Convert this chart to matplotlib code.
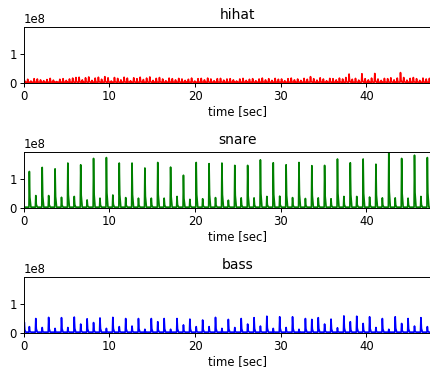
import numpy as np
import matplotlib
matplotlib.use("Agg")
import matplotlib.pyplot as plt
from typing import List, Tuple

SCALE = 1e8

# snare: loud hits and the quieter hits in between (values in 1e8)
snare_big_t = [0.67, 2.17, 3.67, 5.16, 6.66, 8.16, 9.66, 11.16, 12.65, 14.15, 15.65,
               17.15, 18.65, 20.14, 21.64, 23.14, 24.64, 26.14, 27.63, 29.13, 30.63,
               32.13, 33.63, 35.12, 36.62, 38.12, 39.62, 41.11, 42.61, 44.11, 45.61, 47.11]
snare_big_v = [1.27, 1.41, 1.36, 1.56, 1.50, 1.72, 1.75, 1.56, 1.56, 1.39, 1.58,
               1.42, 1.14, 1.58, 1.54, 1.56, 1.48, 1.48, 1.67, 1.57, 1.50,
               1.58, 1.47, 1.48, 1.70, 1.57, 1.70, 1.52, 1.93, 1.72, 1.83, 1.75]
snare_small_t = [1.42, 2.92, 4.42, 5.91, 7.41, 8.91, 10.41, 11.91, 13.40, 14.90, 16.40,
                 17.90, 19.40, 20.89, 22.39, 23.89, 25.39, 26.89, 28.38, 29.88, 31.38,
                 32.88, 34.38, 35.87, 37.37, 38.87, 40.37, 41.86, 43.36, 44.86, 46.36]
snare_small_v = [0.44, 0.44, 0.38, 0.41, 0.29, 0.35, 0.46, 0.37, 0.35, 0.35, 0.35,
                 0.41, 0.31, 0.33, 0.37, 0.28, 0.36, 0.36, 0.41, 0.42, 0.37,
                 0.34, 0.36, 0.33, 0.41, 0.41, 0.39, 0.36, 0.36, 0.35, 0.41]

# bass: big hits line up with the quiet snare hits, small ones with the loud snare hits
bass_big_t = snare_small_t
bass_big_v = [0.51, 0.55, 0.54, 0.56, 0.50, 0.53, 0.55, 0.51, 0.51, 0.51, 0.51,
              0.51, 0.49, 0.46, 0.55, 0.48, 0.51, 0.54, 0.59, 0.57, 0.57,
              0.51, 0.54, 0.49, 0.60, 0.59, 0.57, 0.51, 0.57, 0.51, 0.54]
bass_small_t = [0.08] + snare_big_t
bass_small_v = [0.38, 0.23, 0.20, 0.17, 0.20, 0.32, 0.37, 0.17, 0.23, 0.25, 0.14, 0.40,
                0.14, 0.29, 0.23, 0.23, 0.17, 0.20, 0.32, 0.25, 0.17, 0.20, 0.14,
                0.48, 0.32, 0.19, 0.40, 0.34, 0.20, 0.14, 0.34, 0.25, 0.23]

# hihat: one hit every 0.375 s starting at 0.1 s
hihat_start = 0.1
hihat_step = 0.375
hihat_v = [0.10, 0.14, 0.08, 0.16, 0.15, 0.12, 0.09, 0.13, 0.17, 0.11, 0.06, 0.14, 0.16, 0.10, 0.15, 0.18,
           0.20, 0.21, 0.12, 0.19, 0.22, 0.10, 0.18, 0.21, 0.14, 0.23, 0.19, 0.08, 0.20, 0.17, 0.12, 0.21,
           0.18, 0.09, 0.19, 0.16, 0.21, 0.13, 0.18, 0.22, 0.10, 0.17, 0.20, 0.15, 0.09, 0.18, 0.16, 0.12,
           0.17, 0.15, 0.10, 0.14, 0.18, 0.08, 0.16, 0.17, 0.12, 0.18, 0.15, 0.09, 0.16, 0.17, 0.11, 0.15,
           0.16, 0.12, 0.08, 0.15, 0.17, 0.10, 0.14, 0.16, 0.09, 0.15, 0.18, 0.12, 0.16, 0.10, 0.17, 0.14,
           0.15, 0.09, 0.16, 0.18, 0.12, 0.15, 0.10, 0.17, 0.14, 0.23, 0.16, 0.11, 0.19, 0.15, 0.09, 0.17,
           0.16, 0.12, 0.18, 0.15, 0.20, 0.32, 0.14, 0.17, 0.11, 0.33, 0.16, 0.12, 0.18, 0.34, 0.15, 0.10,
           0.17, 0.16, 0.19, 0.12, 0.18, 0.37, 0.20, 0.11, 0.17, 0.20, 0.16, 0.10, 0.18, 0.15, 0.17]
hihat_t = [hihat_start + i * hihat_step for i in range(len(hihat_v))]

BASELINE = 0.04

plt.rcParams.update({
    "font.size": 8.4,
    "axes.titlesize": 10,
    "axes.titlepad": 6,
    "axes.labelpad": 1.5,
    "axes.linewidth": 0.7,
    "xtick.major.size": 2.8,
    "ytick.major.size": 2.8,
    "xtick.major.width": 0.7,
    "ytick.major.width": 0.7,
    "xtick.major.pad": 2.2,
    "ytick.major.pad": 2.2,
})


def spikes(times: List[float], values: List[float]) -> Tuple[np.ndarray, np.ndarray]:
    # turn hit times/heights into a spiky envelope line
    order = np.argsort(times)
    xs, ys = [0.0], [BASELINE]
    for i in order:
        t, v = times[i], values[i]
        xs += [t - 0.05, t, t + 0.06, t + 0.18]
        ys += [BASELINE, v, 0.3 * v, BASELINE]
    xs.append(50.0)
    ys.append(BASELINE)
    return np.array(xs), np.array(ys) * SCALE


tracks = [
    ("hihat", "r", hihat_t, hihat_v),
    ("snare", "g", snare_big_t + snare_small_t, snare_big_v + snare_small_v),
    ("bass", "b", bass_big_t + bass_small_t, bass_big_v + bass_small_v),
]

fig = plt.figure(figsize=(4.31, 3.72), dpi=100)
ymax = max(snare_big_v) * SCALE
bottoms = [0.776, 0.44, 0.104]
for (name, colour, t, v), b in zip(tracks, bottoms):
    ax = fig.add_axes([0.0548, b, 0.9942, 0.1505])
    x, y = spikes(t, v)
    ax.plot(x, y, color=colour, linewidth=1.2)
    ax.set_xlim(0, 50)
    ax.set_ylim(0, ymax)
    ax.set_xticks([0, 10, 20, 30, 40])
    ax.set_yticks([0, 1e8])
    ax.set_title(name)
    ax.set_xlabel("time [sec]")

fig.savefig("out.png", dpi=100)
